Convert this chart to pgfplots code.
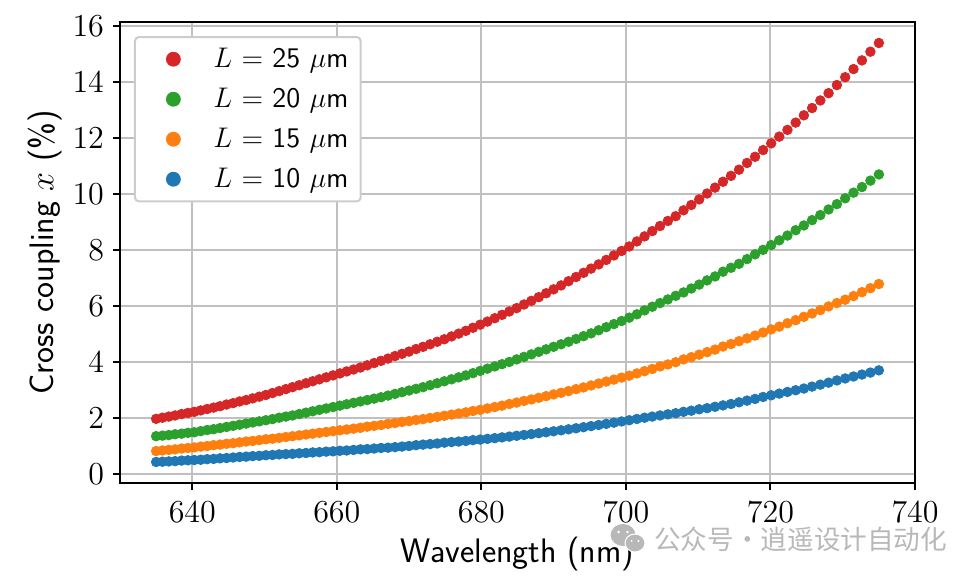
\documentclass[border=0pt]{standalone}
\usepackage{fix-cm}
\usepackage{fontspec}
\newfontfamily\cjk{Noto Sans CJK SC}
\usepackage{pgfplots}
\usepackage{pgfplotstable}
\pgfplotsset{compat=1.18}

\definecolor{tabred}{HTML}{D62728}
\definecolor{tabgreen}{HTML}{2CA02C}
\definecolor{taborange}{HTML}{FF7F0E}
\definecolor{tabblue}{HTML}{1F77B4}
\definecolor{gridgray}{HTML}{C0C0C0}
\definecolor{markgray}{HTML}{B8B8B8}

% wavelength (nm), cross coupling (%) for each length
\pgfplotstableread{
lam L10 L15 L20 L25
635.00 0.44 0.83 1.36 1.98
635.87 0.45 0.85 1.38 2.02
636.75 0.46 0.87 1.40 2.06
637.63 0.47 0.89 1.43 2.10
638.52 0.49 0.92 1.45 2.15
639.40 0.50 0.94 1.48 2.19
640.28 0.51 0.96 1.50 2.23
641.17 0.52 0.99 1.54 2.28
642.06 0.54 1.01 1.58 2.33
642.95 0.55 1.04 1.61 2.38
643.84 0.57 1.06 1.65 2.43
644.74 0.58 1.09 1.69 2.49
645.65 0.60 1.11 1.73 2.54
646.55 0.62 1.14 1.77 2.60
647.45 0.63 1.17 1.81 2.65
648.36 0.65 1.19 1.85 2.71
649.27 0.66 1.22 1.89 2.77
650.18 0.68 1.25 1.93 2.83
651.10 0.69 1.27 1.97 2.90
652.02 0.71 1.30 2.02 2.97
652.95 0.72 1.33 2.06 3.04
653.87 0.73 1.36 2.10 3.11
654.80 0.75 1.39 2.15 3.18
655.73 0.76 1.42 2.20 3.25
656.66 0.78 1.45 2.25 3.32
657.59 0.79 1.48 2.30 3.39
658.53 0.81 1.51 2.35 3.46
659.48 0.82 1.54 2.40 3.53
660.42 0.84 1.57 2.45 3.60
661.36 0.85 1.60 2.50 3.67
662.31 0.87 1.63 2.55 3.74
663.26 0.89 1.66 2.60 3.81
664.21 0.90 1.70 2.65 3.89
665.16 0.92 1.73 2.70 3.97
666.12 0.94 1.76 2.75 4.05
667.09 0.95 1.80 2.81 4.13
668.05 0.97 1.83 2.87 4.22
669.02 0.99 1.87 2.93 4.30
669.99 1.01 1.90 2.99 4.38
670.96 1.04 1.94 3.05 4.47
671.93 1.06 1.97 3.11 4.55
672.91 1.08 2.01 3.18 4.64
673.89 1.10 2.05 3.25 4.73
674.88 1.13 2.09 3.32 4.82
675.87 1.15 2.13 3.39 4.92
676.86 1.17 2.17 3.46 5.02
677.85 1.19 2.21 3.53 5.12
678.84 1.22 2.26 3.61 5.23
679.84 1.24 2.30 3.69 5.34
680.84 1.265 2.35 3.77 5.45
681.85 1.29 2.40 3.85 5.57
682.86 1.318 2.45 3.93 5.69
683.87 1.346 2.51 4.01 5.81
684.88 1.375 2.56 4.10 5.93
685.90 1.405 2.62 4.19 6.06
686.92 1.436 2.67 4.28 6.19
687.94 1.468 2.73 4.37 6.32
688.96 1.501 2.79 4.46 6.46
689.99 1.535 2.85 4.55 6.60
691.03 1.57 2.91 4.64 6.74
692.06 1.606 2.97 4.73 6.89
693.10 1.643 3.04 4.83 7.04
694.14 1.681 3.10 4.93 7.19
695.18 1.72 3.17 5.03 7.34
696.23 1.76 3.24 5.14 7.49
697.28 1.801 3.31 5.25 7.65
698.34 1.843 3.38 5.36 7.81
699.40 1.886 3.45 5.47 7.97
700.46 1.93 3.52 5.59 8.13
701.52 1.975 3.60 5.71 8.31
702.58 2.02 3.68 5.85 8.49
703.65 2.06 3.76 5.98 8.68
704.72 2.10 3.85 6.11 8.86
705.80 2.14 3.92 6.24 9.04
706.89 2.18 4.00 6.37 9.21
707.97 2.23 4.10 6.49 9.42
709.05 2.27 4.18 6.63 9.61
710.14 2.32 4.27 6.77 9.81
711.23 2.36 4.36 6.92 10.02
712.33 2.41 4.45 7.06 10.23
713.43 2.46 4.56 7.23 10.44
714.54 2.51 4.65 7.37 10.65
715.65 2.57 4.75 7.51 10.87
716.76 2.63 4.85 7.68 11.11
717.87 2.69 4.95 7.85 11.33
718.98 2.76 5.06 8.01 11.57
720.10 2.82 5.17 8.18 11.81
721.22 2.88 5.27 8.35 12.05
722.35 2.94 5.39 8.52 12.29
723.49 3.00 5.50 8.71 12.55
724.62 3.06 5.62 8.88 12.81
725.76 3.13 5.74 9.07 13.07
726.90 3.20 5.86 9.25 13.34
728.04 3.27 5.99 9.45 13.60
729.19 3.35 6.11 9.64 13.89
730.34 3.42 6.23 9.85 14.17
731.49 3.49 6.36 10.05 14.46
732.66 3.56 6.50 10.25 14.77
733.83 3.63 6.64 10.48 15.08
735.00 3.71 6.79 10.70 15.39
}\coupling

\begin{document}
\begin{tikzpicture}
\path[use as bounding box] (0,0) rectangle (489pt,288.5pt);
\begin{axis}[
    at={(60pt,47pt)}, anchor=south west,
    scale only axis,
    width=397.5pt, height=230.5pt,
    xmin=630, xmax=740,
    ymin=-0.31, ymax=16.14,
    xtick={640,660,680,700,720,740},
    ytick={0,2,4,6,8,10,12,14,16},
    tick align=outside,
    tick pos=left,
    major tick length=3.5pt,
    tick style={black, line width=1pt},
    axis line style={black, line width=1pt},
    grid=major,
    grid style={gridgray, line width=1pt},
    ticklabel style={font=\fontsize{16}{18}\selectfont},
    xticklabel style={yshift=-2.5pt},
    yticklabel style={xshift=-1pt},
    xlabel={\sffamily Wavelength (nm)},
    ylabel={\sffamily Cross coupling $x$ (\%)},
    label style={font=\fontsize{17}{19}\selectfont},
    xlabel style={yshift=-0.5pt},
    ylabel style={yshift=-1.5pt},
    legend cell align=left,
    legend image code/.code={%
        \path (-14.5pt,0pt) (17.5pt,0pt);
        \draw[#1, mark size=3.2pt] plot coordinates {(0pt,0pt)};
    },
    legend style={
        at={(0.0176,0.9696)}, anchor=north west,
        draw=black!20, line width=1pt, rounded corners=2pt,
        fill=white,
        font=\fontsize{14.2}{16}\selectfont\sffamily,
        inner xsep=4.2pt, inner ysep=3.5pt,
        row sep=4.8pt,
    },
    every axis plot/.append style={only marks, mark=*, mark size=2.4pt},
]
\addplot[tabred, mark options={draw=tabred, fill=tabred}] table[x=lam, y=L25] {\coupling};
\addlegendentry{$L$ = 25 $\mu$m}
\addplot[tabgreen, mark options={draw=tabgreen, fill=tabgreen}] table[x=lam, y=L20] {\coupling};
\addlegendentry{$L$ = 20 $\mu$m}
\addplot[taborange, mark options={draw=taborange, fill=taborange}] table[x=lam, y=L15] {\coupling};
\addlegendentry{$L$ = 15 $\mu$m}
\addplot[tabblue, mark options={draw=tabblue, fill=tabblue}] table[x=lam, y=L10] {\coupling};
\addlegendentry{$L$ = 10 $\mu$m\rule[-4.25pt]{0pt}{1pt}}
\end{axis}
% watermark
\fill[markgray] (311.5pt,21pt) ellipse (6.2pt and 5.5pt);
\fill[white] (309.3pt,22.5pt) circle (0.7pt) (313.7pt,22.5pt) circle (0.7pt);
\fill[markgray, draw=white, line width=0.5pt] (317.5pt,17pt) ellipse (5pt and 4.5pt);
\fill[white] (315.8pt,18pt) circle (0.55pt) (319.2pt,18pt) circle (0.55pt);
\node[anchor=west, text=markgray, inner sep=0pt, font=\fontsize{13.3}{15}\selectfont\cjk] at (326.8pt,19pt) {公众号\makebox[13.5pt][c]{·}逍遥设计自动化};
\end{tikzpicture}
\end{document}
